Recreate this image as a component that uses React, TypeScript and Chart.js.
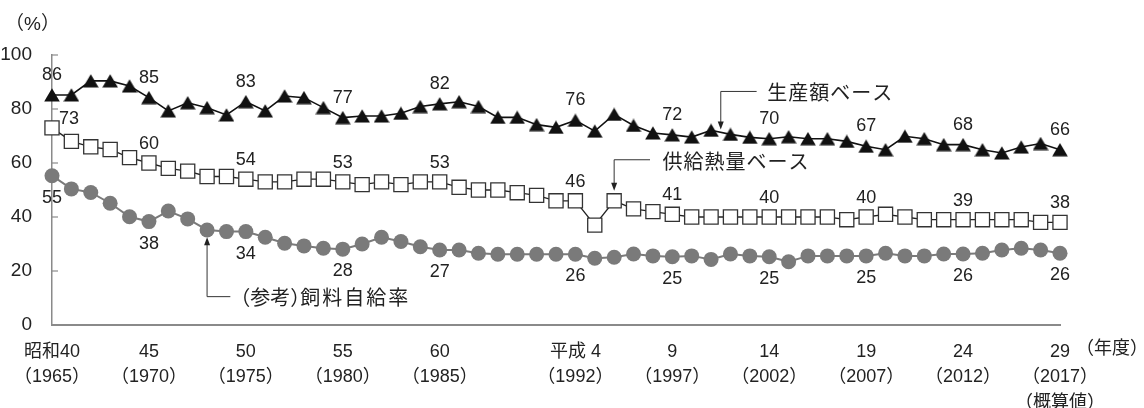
import React, { useEffect, useRef } from 'react';
import { Chart, registerables } from 'chart.js';

Chart.register(...registerables);

const YEARS = [
  1965, 1966, 1967, 1968, 1969, 1970, 1971, 1972, 1973, 1974,
  1975, 1976, 1977, 1978, 1979, 1980, 1981, 1982, 1983, 1984,
  1985, 1986, 1987, 1988, 1989, 1990, 1991, 1992, 1993, 1994,
  1995, 1996, 1997, 1998, 1999, 2000, 2001, 2002, 2003, 2004,
  2005, 2006, 2007, 2008, 2009, 2010, 2011, 2012, 2013, 2014,
  2015, 2016, 2017,
];

// 生産額ベース
const PROD = [
  85.2, 85.2, 90.4, 90.4, 88.5, 84.2, 79.3, 82.3, 80.5, 77.8,
  82.7, 79.3, 84.8, 84.2, 80.5, 76.8, 77.4, 77.4, 78.4, 80.9,
  81.9, 82.7, 80.9, 76.9, 76.9, 74.2, 73.2, 75.8, 71.8, 78.0,
  73.9, 71.1, 70.4, 69.6, 72.1, 70.6, 69.5, 69.0, 69.7, 69.0,
  69.0, 68.0, 66.2, 64.9, 69.9, 69.0, 66.8, 66.8, 64.9, 63.7,
  65.9, 67.2, 64.9,
];

// 供給熱量ベース
const CAL = [
  73, 68, 66, 65, 62, 60, 58, 57, 55, 55,
  54, 53, 53, 54, 54, 53, 52, 53, 52, 53,
  53, 51, 50, 50, 49, 48, 46, 46, 37, 46,
  43, 42, 41, 40, 40, 40, 40, 40, 40, 40,
  40, 39, 40, 41, 40, 39, 39, 39, 39, 39,
  39, 38, 38,
];

// （参考）飼料自給率
const FEED = [
  55.3, 50.4, 49.1, 45.1, 40.1, 38.3, 42.2, 39.3, 35.2, 34.6,
  34.6, 32.5, 30.3, 29.3, 28.4, 28.1, 30.0, 32.5, 30.9, 29.0,
  27.8, 27.8, 26.6, 26.2, 26.2, 26.2, 26.2, 26.2, 24.7, 25.1,
  26.3, 25.6, 25.3, 25.6, 24.3, 26.3, 25.6, 25.3, 23.4, 25.6,
  25.6, 25.6, 25.6, 26.6, 25.6, 25.6, 26.3, 26.3, 26.6, 27.8,
  28.4, 27.8, 26.6,
];

const LABEL_YEARS = [1965, 1970, 1975, 1980, 1985, 1992, 1997, 2002, 2007, 2012, 2017];
const PROD_LABELS = ['86', '85', '83', '77', '82', '76', '72', '70', '67', '68', '66'];
const CAL_LABELS = ['73', '60', '54', '53', '53', '46', '41', '40', '40', '39', '38'];
const FEED_LABELS = ['55', '38', '34', '28', '27', '26', '25', '25', '25', '26', '26'];

const TICK_YEARS = [1965, 1970, 1975, 1980, 1985, 1992, 1997, 2002, 2007, 2012, 2017];
const TICK_ERA = ['昭和40', '45', '50', '55', '60', '平成 4', '9', '14', '19', '24', '29'];
const TICK_AD = ['（1965）', '（1970）', '（1975）', '（1980）', '（1985）', '（1992）', '（1997）', '（2002）', '（2007）', '（2012）', '（2017）'];
const LAST_NOTE = '（概算値）';

const NUM_FONT = '"Liberation Sans", Arial, sans-serif';
const MIX_FONT = '"Liberation Sans", "Noto Sans CJK JP", sans-serif';
const JP_FONT = '"Noto Sans CJK JP", "Noto Sans CJK SC", sans-serif';
const AXIS = '#8a8a8a';
const TEXT = '#222';
const FEED_COLOR = '#7a7a7a';

function makeTriangle(): HTMLCanvasElement {
  const c = document.createElement('canvas');
  c.width = 16;
  c.height = 14;
  const g = c.getContext('2d')!;
  g.fillStyle = '#111';
  g.beginPath();
  g.moveTo(8, 0.3);
  g.lineTo(15.8, 13.6);
  g.lineTo(0.2, 13.6);
  g.closePath();
  g.fill();
  return c;
}

function arrowHead(ctx: CanvasRenderingContext2D, x: number, y: number, dir: number) {
  // dir: 1 = pointing down, -1 = pointing up
  ctx.beginPath();
  ctx.moveTo(x, y);
  ctx.lineTo(x - 3, y - dir * 8);
  ctx.lineTo(x + 3, y - dir * 8);
  ctx.closePath();
  ctx.fill();
}

const overlayPlugin = {
  id: 'overlay',
  afterDraw(chart: any) {
    const ctx: CanvasRenderingContext2D = chart.ctx;
    const xs = chart.scales.x;
    const ys = chart.scales.y;
    const ca = chart.chartArea;
    ctx.save();

    // inner tick marks on the y axis
    ctx.strokeStyle = AXIS;
    ctx.lineWidth = 1.2;
    ys.ticks.forEach((t: any) => {
      if (t.value === 0) return;
      const py = ys.getPixelForValue(t.value);
      ctx.beginPath();
      ctx.moveTo(ca.left, py);
      ctx.lineTo(ca.left + 6, py);
      ctx.stroke();
    });

    // data labels
    ctx.fillStyle = TEXT;
    ctx.font = `18px ${NUM_FONT}`;
    ctx.textAlign = 'center';
    ctx.textBaseline = 'middle';
    LABEL_YEARS.forEach((yr, i) => {
      const idx = YEARS.indexOf(yr);
      const px = xs.getPixelForValue(yr);
      ctx.fillText(PROD_LABELS[i], px, ys.getPixelForValue(PROD[idx]) - 20);
      if (i === 0) {
        ctx.fillText(CAL_LABELS[i], px + 17, ys.getPixelForValue(CAL[idx]) - 9);
      } else {
        ctx.fillText(CAL_LABELS[i], px, ys.getPixelForValue(CAL[idx]) - 19);
      }
      ctx.fillText(FEED_LABELS[i], px, ys.getPixelForValue(FEED[idx]) + 22);
    });

    // callouts
    ctx.strokeStyle = '#333';
    ctx.fillStyle = '#222';
    ctx.lineWidth = 1;

    // 生産額ベース
    {
      const ax = xs.getPixelForValue(1999.5);
      const tip = ys.getPixelForValue(72.4);
      const elbow = ys.getPixelForValue(86.5);
      const hx = xs.getPixelForValue(2001.35);
      ctx.beginPath();
      ctx.moveTo(hx, elbow);
      ctx.lineTo(ax, elbow);
      ctx.lineTo(ax, tip - 6);
      ctx.stroke();
      arrowHead(ctx, ax, tip, 1);
      ctx.font = `20px ${JP_FONT}`;
      ctx.textAlign = 'left';
      ctx.textBaseline = 'middle';
      (ctx as any).letterSpacing = '1px';
      ctx.fillText('生産額ベース', xs.getPixelForValue(2001.9), ys.getPixelForValue(86.2));
    }
    // 供給熱量ベース
    {
      const ax = xs.getPixelForValue(1994);
      const tip = ys.getPixelForValue(49.7);
      const elbow = ys.getPixelForValue(61.2);
      const hx = xs.getPixelForValue(1995.85);
      ctx.beginPath();
      ctx.moveTo(hx, elbow);
      ctx.lineTo(ax, elbow);
      ctx.lineTo(ax, tip - 6);
      ctx.stroke();
      arrowHead(ctx, ax, tip, 1);
      ctx.fillText('供給熱量ベース', xs.getPixelForValue(1996.5), ys.getPixelForValue(60.5));
    }
    // （参考）飼料自給率
    {
      const ax = xs.getPixelForValue(1973);
      const tip = ys.getPixelForValue(32.5);
      const elbow = ys.getPixelForValue(10.5);
      const hx = xs.getPixelForValue(1974.2);
      ctx.beginPath();
      ctx.moveTo(hx, elbow);
      ctx.lineTo(ax, elbow);
      ctx.lineTo(ax, tip + 6);
      ctx.stroke();
      arrowHead(ctx, ax, tip, -1);
      const ty = ys.getPixelForValue(10.3);
      const x0 = xs.getPixelForValue(1974.2);
      (ctx as any).letterSpacing = '0px';
      ctx.fillText('（参考）', x0, ty);
      (ctx as any).letterSpacing = '2px';
      ctx.fillText('飼料自給率', x0 + 70, ty);
      (ctx as any).letterSpacing = '0px';
    }

    // unit labels
    ctx.font = `19px ${MIX_FONT}`;
    ctx.textAlign = 'left';
    ctx.textBaseline = 'middle';
    ctx.fillText('（%）', 5, 25);
    ctx.font = `18px ${MIX_FONT}`;
    const lastPx = xs.getPixelForValue(TICK_YEARS[TICK_YEARS.length - 1]);
    ctx.fillText('（年度）', lastPx + 16, ca.bottom + 24.5);

    ctx.restore();
  },
};

export default function App() {
  const ref = useRef<HTMLCanvasElement | null>(null);

  useEffect(() => {
    document.body.style.margin = '0';
    const canvas = ref.current!;
    const tri = makeTriangle();
    const pts = (arr: number[]) => arr.map((v, i) => ({ x: YEARS[i], y: v }));

    const chart = new Chart(canvas, {
      type: 'line',
      data: {
        datasets: [
          {
            label: '生産額ベース',
            data: pts(PROD),
            borderColor: '#111',
            borderWidth: 1.6,
            pointStyle: tri as any,
            pointRadius: 8,
            tension: 0,
            clip: false as any,
          },
          {
            label: '供給熱量ベース',
            data: pts(CAL),
            borderColor: '#222',
            borderWidth: 1.3,
            pointStyle: 'rect',
            pointRadius: 10,
            pointBackgroundColor: '#fff',
            pointBorderColor: '#333',
            pointBorderWidth: 1.3,
            tension: 0,
            clip: false as any,
          },
          {
            label: '（参考）飼料自給率',
            data: pts(FEED),
            borderColor: FEED_COLOR,
            borderWidth: 2,
            pointStyle: 'circle',
            pointRadius: 7.5,
            pointBackgroundColor: FEED_COLOR,
            pointBorderColor: FEED_COLOR,
            pointBorderWidth: 0,
            tension: 0,
            clip: false as any,
          },
        ],
      },
      options: {
        responsive: false,
        animation: false,
        events: [],
        layout: { padding: { left: 0, right: 84, top: 55, bottom: 0 } },
        plugins: {
          legend: { display: false },
          tooltip: { enabled: false },
          title: { display: false },
        },
        scales: {
          x: {
            type: 'linear',
            min: 1965,
            max: 2017,
            afterBuildTicks: (s: any) => {
              s.ticks = TICK_YEARS.map((v) => ({ value: v }));
            },
            afterFit: (s: any) => {
              s.height = 83;
            },
            grid: { display: false },
            border: { display: true, color: AXIS, width: 2 },
            ticks: {
              autoSkip: false,
              maxRotation: 0,
              minRotation: 0,
              padding: 6,
              color: TEXT,
              font: { family: MIX_FONT, size: 18, lineHeight: 1.42 },
              callback: (v: any) => {
                const i = TICK_YEARS.indexOf(Number(v));
                if (i < 0) return '';
                if (i === TICK_YEARS.length - 1) return [TICK_ERA[i], TICK_AD[i], LAST_NOTE];
                return [TICK_ERA[i], TICK_AD[i]];
              },
            },
          },
          y: {
            min: 0,
            max: 100,
            afterFit: (s: any) => {
              s.width = 52;
            },
            grid: { display: false },
            border: { display: true, color: AXIS, width: 1.5 },
            ticks: {
              stepSize: 20,
              padding: 12,
              color: TEXT,
              font: { family: NUM_FONT, size: 19 },
            },
          },
        },
      },
      plugins: [overlayPlugin],
    });

    return () => chart.destroy();
  }, []);

  return <canvas ref={ref} width={1144} height={408} style={{ display: 'block' }} />;
}
